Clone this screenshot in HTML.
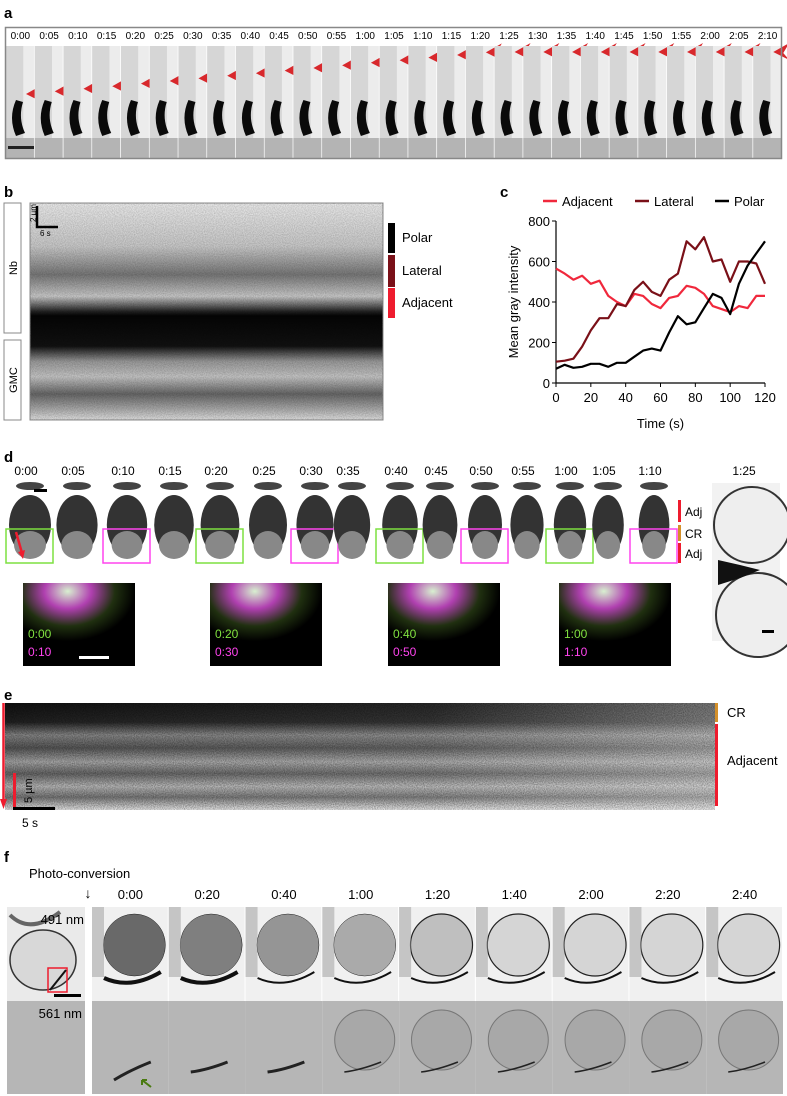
<!DOCTYPE html>
<html><head><meta charset="utf-8">
<style>
html,body{margin:0;padding:0;background:#fff;}
svg{display:block;font-family:"Liberation Sans",sans-serif;}
</style></head>
<body>
<svg id="fig" width="787" height="1096" viewBox="0 0 787 1096" xmlns="http://www.w3.org/2000/svg">
<defs>
<filter id="noise" x="0" y="0" width="100%" height="100%">
 <feTurbulence type="fractalNoise" baseFrequency="0.9" numOctaves="2" seed="3" result="t"/>
 <feColorMatrix in="t" type="matrix" values="0 0 0 0 0  0 0 0 0 0  0 0 0 0 0  0 0 0 -1.2 0.9" result="n"/>
 <feComposite in="n" in2="SourceGraphic" operator="in"/>
</filter>
<linearGradient id="bkymo" x1="0" y1="0" x2="0" y2="1">
 <stop offset="0" stop-color="#eaeaea"/><stop offset="0.2" stop-color="#c8c8c8"/>
 <stop offset="0.33" stop-color="#777"/><stop offset="0.43" stop-color="#c8c8c8"/>
 <stop offset="0.5" stop-color="#222"/><stop offset="0.52" stop-color="#050505"/>
 <stop offset="0.66" stop-color="#111"/><stop offset="0.73" stop-color="#999"/>
 <stop offset="0.8" stop-color="#c4c4c4"/><stop offset="0.88" stop-color="#666"/>
 <stop offset="0.95" stop-color="#aaa"/><stop offset="1" stop-color="#e0e0e0"/>
</linearGradient>
<linearGradient id="ekymo" x1="0" y1="0" x2="0" y2="1">
 <stop offset="0" stop-color="#111"/><stop offset="0.18" stop-color="#222"/>
 <stop offset="0.3" stop-color="#888"/><stop offset="0.42" stop-color="#555"/>
 <stop offset="0.55" stop-color="#aaa"/><stop offset="0.66" stop-color="#666"/>
 <stop offset="0.78" stop-color="#bbb"/><stop offset="0.88" stop-color="#777"/>
 <stop offset="1" stop-color="#eee"/>
</linearGradient>
<linearGradient id="efade" x1="0" y1="0" x2="1" y2="0">
 <stop offset="0" stop-color="#fff" stop-opacity="0"/><stop offset="0.6" stop-color="#fff" stop-opacity="0.1"/>
 <stop offset="1" stop-color="#fff" stop-opacity="0.45"/>
</linearGradient>
<radialGradient id="inset" cx="0.4" cy="0.1" r="0.6">
 <stop offset="0" stop-color="#d8f0d0"/><stop offset="0.35" stop-color="#b040b0"/>
 <stop offset="0.7" stop-color="#203010"/><stop offset="1" stop-color="#000"/>
</radialGradient>
</defs>

<!-- panel a -->
<text x="4" y="18" font-size="15" font-weight="bold">a</text>
<g id="pa"></g>
<rect x="5.5" y="27.5" width="776" height="131" fill="none" stroke="#888" stroke-width="1.5"/>
<rect x="8" y="146" width="26" height="3" fill="#222"/>

<!-- panel b -->
<text x="4" y="197" font-size="15" font-weight="bold">b</text>
<rect x="4" y="203" width="17" height="130" fill="#fff" stroke="#888"/>
<text transform="translate(17,268) rotate(-90)" font-size="11" text-anchor="middle">Nb</text>
<rect x="4" y="340" width="17" height="80" fill="#fff" stroke="#888"/>
<text transform="translate(17,380) rotate(-90)" font-size="11" text-anchor="middle">GMC</text>
<rect x="30" y="203" width="353" height="217" fill="url(#bkymo)" stroke="#888"/>
<rect x="30" y="203" width="353" height="217" fill="#000" opacity="0.25" filter="url(#noise)"/>
<path d="M37 206 V 227 H 58" fill="none" stroke="#000" stroke-width="2.5"/>
<text x="40" y="236" font-size="8">6 s</text>
<text transform="translate(36,222) rotate(-90)" font-size="8">2 µm</text>
<rect x="388" y="223" width="7" height="30" fill="#000"/>
<rect x="388" y="255" width="7" height="32" fill="#7a1018"/>
<rect x="388" y="288" width="7" height="30" fill="#ee1c2e"/>
<text x="402" y="242" font-size="13">Polar</text>
<text x="402" y="275" font-size="13">Lateral</text>
<text x="402" y="307" font-size="13">Adjacent</text>

<!-- panel c -->
<text x="500" y="197" font-size="15" font-weight="bold">c</text>
<g id="chart"></g>

<!-- panel d -->
<text x="4" y="462" font-size="15" font-weight="bold">d</text>
<g id="pd"></g>
<rect x="34" y="489" width="13" height="3" fill="#000"/>
<rect x="678" y="500" width="3" height="22" fill="#ee1c2e"/>
<rect x="678" y="525" width="3" height="16" fill="#d4902a"/>
<rect x="678" y="543" width="3" height="20" fill="#ee1c2e"/>
<text x="685" y="516" font-size="12">Adj</text>
<text x="685" y="538" font-size="12">CR</text>
<text x="685" y="558" font-size="12">Adj</text>
<text x="744" y="475" font-size="12" text-anchor="middle">1:25</text>
<g>
 <rect x="712" y="483" width="68" height="158" fill="#f2f2f2"/>
 <circle cx="752" cy="525" r="38" fill="#eee" stroke="#333" stroke-width="2"/>
 <circle cx="758" cy="615" r="42" fill="#eee" stroke="#333" stroke-width="2"/>
 <path d="M718 560 L740 565 L760 570 L740 578 L718 585Z" fill="#111"/>
 <rect x="762" y="630" width="12" height="3" fill="#000"/>
</g>

<!-- panel e -->
<text x="4" y="700" font-size="15" font-weight="bold">e</text>
<rect x="5" y="703" width="710" height="107" fill="url(#ekymo)"/>
<rect x="5" y="703" width="710" height="107" fill="url(#efade)"/>
<rect x="5" y="703" width="710" height="107" fill="#fff" opacity="0.5" filter="url(#noise)"/>
<line x1="3.5" y1="703" x2="3.5" y2="800" stroke="#ee1c2e" stroke-width="2.5"/>
<path d="M0 799 L7 799 L3.5 809Z" fill="#ee1c2e"/>
<rect x="13" y="773" width="3" height="35" fill="#ee1c2e"/>
<rect x="13" y="807" width="42" height="3" fill="#000"/>
<text x="22" y="827" font-size="12">5 s</text>
<text transform="translate(32,803) rotate(-90)" font-size="11">5 µm</text>
<rect x="715" y="703" width="3" height="19" fill="#d4902a"/>
<rect x="715" y="724" width="3" height="82" fill="#ee1c2e"/>
<text x="727" y="717" font-size="13">CR</text>
<text x="727" y="765" font-size="13">Adjacent</text>

<!-- panel f -->
<text x="4" y="862" font-size="15" font-weight="bold">f</text>
<text x="29" y="878" font-size="13">Photo-conversion</text>
<text x="88" y="898" font-size="14" text-anchor="middle">↓</text>
<g id="pf"></g>
<g>
 <rect x="7" y="907" width="78" height="94" fill="#eaeaea"/>
 <ellipse cx="43" cy="960" rx="33" ry="30" fill="#d8d8d8" stroke="#333" stroke-width="1.5"/>
 <path d="M10 915 Q30 935 60 912" fill="none" stroke="#666" stroke-width="4"/>
 <rect x="48" y="968" width="19" height="24" fill="none" stroke="#ee1c2e" stroke-width="1.5"/>
 <path d="M50 990 L66 970" stroke="#111" stroke-width="2"/>
 <rect x="54" y="994" width="27" height="3" fill="#000"/>
 <rect x="7" y="1001" width="78" height="93" fill="#b6b6b6"/>
</g>
<text x="84" y="924" font-size="13" text-anchor="end">491 nm</text>
<text x="82" y="1018" font-size="13" text-anchor="end">561 nm</text>
<path d="M151 1087 L142 1080 M142 1080 L147 1080 M142 1080 L142 1085" stroke="#4a7a10" stroke-width="2" fill="none"/>
</svg>

<script>
// ---- chart data (panel c) ----
const times = [0,5,10,15,20,25,30,35,40,45,50,55,60,65,70,75,80,85,90,95,100,105,110,115,120];
const adjacentVals = [565,540,510,530,490,505,430,400,380,440,430,390,370,420,430,480,470,440,380,365,350,380,370,430,430];
const lateralVals = [105,110,120,180,260,320,320,390,380,460,500,450,430,510,540,700,660,720,600,610,500,600,600,590,490];
const polarVals = [70,90,75,80,95,95,80,100,100,130,160,170,160,250,330,290,300,370,440,420,340,490,580,640,700];
const xTicks = [0,20,40,60,80,100,120];
const yTicks = [0,200,400,600,800];
const legendNames = ["Adjacent","Lateral","Polar"];
const aTimes = ["0:00","0:05","0:10","0:15","0:20","0:25","0:30","0:35","0:40","0:45","0:50","0:55","1:00","1:05","1:10","1:15","1:20","1:25","1:30","1:35","1:40","1:45","1:50","1:55","2:00","2:05","2:10"];
const dTimes = ["0:00","0:05","0:10","0:15","0:20","0:25","0:30","0:35","0:40","0:45","0:50","0:55","1:00","1:05","1:10"];
const insetLabels = [["0:00","0:10"],["0:20","0:30"],["0:40","0:50"],["1:00","1:10"]];
const fTimes = ["0:00","0:20","0:40","1:00","1:20","1:40","2:00","2:20","2:40"];

const NS = "http://www.w3.org/2000/svg";
function mk(tag, attrs, parent){const e=document.createElementNS(NS,tag);for(const k in attrs)e.setAttribute(k,attrs[k]);parent.appendChild(e);return e;}

// chart
const chart = document.getElementById('chart');
const X0=556,X1=765,Y0=383,Y1=221;
const xs = v => X0 + (v-0)/(120-0)*(X1-X0);
const ys = v => Y0 - v/800*(Y0-Y1);
let ax = mk('path',{d:`M${X0} ${Y1} V${Y0} H${X1}`,fill:'none',stroke:'#000','stroke-width':1.2},chart);


xTicks.forEach(t=>{
  const l=mk('line',{x1:xs(t),x2:xs(t),y1:Y0,y2:Y0+4,stroke:'#000'},chart);
  
  
  const tx=mk('text',{x:xs(t),y:Y0+19,'font-size':13,'text-anchor':'middle'},chart);tx.textContent=t;
  
  
});
yTicks.forEach(t=>{
  const l=mk('line',{x1:X0-4,x2:X0,y1:ys(t),y2:ys(t),stroke:'#000'},chart);
  
  
  const tx=mk('text',{x:X0-6,y:ys(t)+5,'font-size':13,'text-anchor':'end'},chart);tx.textContent=t;
  
  
});
let xt=mk('text',{x:(X0+X1)/2,y:428,'font-size':13,'text-anchor':'middle'},chart);xt.textContent='Time (s)';


let yt=mk('text',{transform:`translate(518,${(Y0+Y1)/2}) rotate(-90)`,'font-size':13,'text-anchor':'middle'},chart);yt.textContent='Mean gray intensity';


const series=[[adjacentVals,'#f0283c','series-adjacent'],[lateralVals,'#7a1018','series-lateral'],[polarVals,'#000','series-polar']];
series.forEach(([vals,col,nm])=>{
  const d=vals.map((v,i)=>(i?'L':'M')+xs(times[i]).toFixed(1)+' '+ys(v).toFixed(1)).join(' ');
  const p=mk('path',{d:d,fill:'none',stroke:col,'stroke-width':2.2,'stroke-linejoin':'round'},chart);
  
  
});
const legX=[543,635,715];
legendNames.forEach((n,i)=>{
  const l=mk('line',{x1:legX[i],x2:legX[i]+14,y1:201,y2:201,stroke:series[i][1],'stroke-width':2.5},chart);
  
  
  const t=mk('text',{x:legX[i]+19,y:206,'font-size':13},chart);t.textContent=n;
  
  
});

// panel a
const pa=document.getElementById('pa');
const aw=776/27;
aTimes.forEach((t,i)=>{
  const x0=6+i*aw;
  const r=mk('rect',{x:x0,y:46,width:aw-0.8,height:112,fill:'#ececec'},pa);
  
  
  mk('rect',{x:x0,y:46,width:aw*0.6,height:112,fill:'#d6d6d6'},pa);
  mk('rect',{x:x0,y:138,width:aw-0.8,height:20,fill:'#b4b4b4'},pa);
  mk('path',{d:`M${x0+10} ${100} Q${x0+2} 118 ${x0+10} 136 L${x0+19} 133 Q${x0+12} 118 ${x0+17} 102Z`,fill:'#0a0a0a'},pa);
  const lab=mk('text',{x:x0+aw/2,y:39,'font-size':10,'text-anchor':'middle'},pa);lab.textContent=t;
  
  
  const ay=Math.max(94-2.6*i,52);
  const ar=mk('path',{d:`M${x0+20} ${ay} L${x0+36} ${ay-9} L${x0+30} ${ay+1} L${x0+36} ${ay+8}Z`,fill:'#d8282c'},pa);
  
  
});

// panel d
const pd=document.getElementById('pd');
const dCenters=[30,77,127,174,220,268,315,352,400,440,485,527,570,608,654];
dTimes.forEach((t,i)=>{
  const cx=dCenters[i];
  const lab=mk('text',{x:cx-4,y:475,'font-size':12,'text-anchor':'middle'},pd);lab.textContent=t;
  
  
  mk('ellipse',{cx:cx,cy:486,rx:14,ry:4,fill:'#444'},pd);
  const c=mk('ellipse',{cx:cx,cy:525,rx:21-i*0.4,ry:30,fill:'#333'},pd);
  
  
  mk('ellipse',{cx:cx,cy:545,rx:16-i*0.3,ry:14,fill:'#888'},pd);
  if(i%2===0){
    const col=(i/2)%2===0?'#7de040':'#ff44ee';
    const b=mk('rect',{x:cx-24,y:529,width:47,height:34,fill:'none',stroke:col,'stroke-width':1.5},pd);
    
    
  }
});
mk('path',{d:'M16 532 L22 553',stroke:'#ee1c2e','stroke-width':2.5},pd);
mk('path',{d:'M18 552 L23 559 L25 550Z',fill:'#ee1c2e'},pd);
const insetX=[23,210,388,559];
insetLabels.forEach((p,i)=>{
  const x=insetX[i];
  const r=mk('rect',{x:x,y:583,width:112,height:83,fill:'url(#inset)'},pd);
  
  
  const t1=mk('text',{x:x+5,y:638,'font-size':12,fill:'#80e040'},pd);t1.textContent=p[0];
  
  
  const t2=mk('text',{x:x+5,y:656,'font-size':12,fill:'#ff44ee'},pd);t2.textContent=p[1];
  
  
});
mk('rect',{x:79,y:656,width:30,height:3,fill:'#fff'},pd);

// panel f
const pf=document.getElementById('pf');
const fw=(783-92)/9;
fTimes.forEach((t,i)=>{
  const x0=92+i*fw;
  const lab=mk('text',{x:x0+fw/2,y:899,'font-size':13,'text-anchor':'middle'},pf);lab.textContent=t;
  
  
  const top=mk('rect',{x:x0,y:907,width:fw-1,height:94,fill:'#f0f0f0'},pf);
  
  
  const dark=Math.max(0.15,0.75-i*0.12);
  mk('circle',{cx:x0+fw/2+4,cy:945,r:31,fill:`rgba(60,60,60,${dark})`,stroke:'#222','stroke-width':i>3?1.2:0.5},pf);
  mk('path',{d:`M${x0+12} 978 Q${x0+fw/2} 990 ${x0+fw-8} 972`,fill:'none',stroke:'#111','stroke-width':i<2?4:2},pf);
  mk('rect',{x:x0,y:907,width:12,height:70,fill:'#999',opacity:0.5},pf);
  const bot=mk('rect',{x:x0,y:1001,width:fw,height:93,fill:'#b6b6b6'},pf);
  
  
  if(i>=3) mk('circle',{cx:x0+fw/2+4,cy:1040,r:30,fill:'#a8a8a8',stroke:'#777','stroke-width':1},pf);
  mk('path',{d:`M${x0+22} ${i===0?1080:1072} Q${x0+fw/2} 1070 ${x0+fw-18} 1062`,fill:'none',stroke:'#222','stroke-width':i<3?3:1.5},pf);
});
</script>
</body></html>
